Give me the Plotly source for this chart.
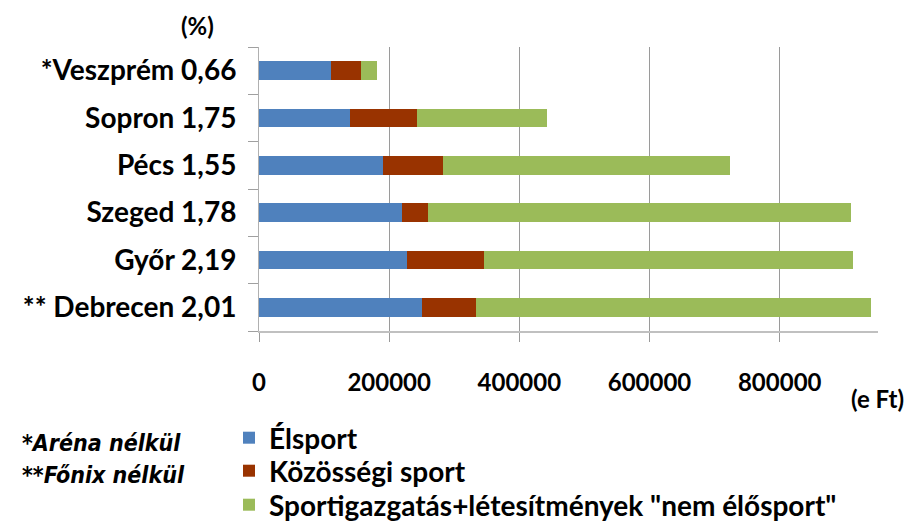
import plotly.graph_objects as go

categories = ["** Debrecen 2,01", "Győr 2,19", "Szeged 1,78", "Pécs 1,55", "Sopron 1,75", "*Veszprém 0,66"]
elsport = [251000, 228000, 220000, 191000, 140000, 111000]
kozossegi = [83000, 118000, 40000, 92000, 102000, 46000]
sportigazgatas = [607000, 567000, 650000, 441000, 201000, 25000]
series_names = ["Élsport", "Közösségi sport", "Sportigazgatás+létesítmények \"nem élősport\""]
tick_vals = [0, 200000, 400000, 600000, 800000]
tick_text = ["0", "200000", "400000", "600000", "800000"]

colors = ["#4F81BD", "#993300", "#9BBB59"]
FONT = "Lato"

# plot area in pixels: x 259..878, y 47..331
L, R, T, B = 259, 878, 47, 331
def px(x):
    return (x - L) / (R - L)
def py(y):
    return (B - y) / (B - T)

legend_ids = ["legend", "legend2", "legend3"]
legend_y = [438, 471, 505]

fig = go.Figure()
for name, vals, c, lid in zip(series_names, [elsport, kozossegi, sportigazgatas], colors, legend_ids):
    fig.add_trace(go.Bar(y=categories, x=vals, name=name, orientation="h", legend=lid,
                         marker=dict(color=c, line=dict(width=0))))

legend_common = dict(xanchor="left", yanchor="middle",
                     font=dict(size=28, family=FONT, weight="bold"),
                     itemwidth=30, bgcolor="rgba(0,0,0,0)")

fig.update_layout(
    barmode="stack",
    bargap=0.6,
    width=911, height=524,
    margin=dict(l=L, r=911 - R, t=T, b=524 - B, autoexpand=False),
    paper_bgcolor="white", plot_bgcolor="white",
    font=dict(family=FONT, color="black"),
    showlegend=True,
    xaxis=dict(range=[0, 951000], tickvals=tick_vals, ticktext=tick_text,
               showgrid=True, gridcolor="#9a9a9a", gridwidth=1,
               showline=True, linecolor="#c0c0c0", linewidth=2,
               ticks="outside", ticklen=9, tickcolor="#9a9a9a",
               tickfont=dict(size=24, family=FONT, weight="bold"),
               ticklabelstandoff=20, zeroline=False, fixedrange=True),
    yaxis=dict(showgrid=False, showline=True, linecolor="#b0b0b0", linewidth=1,
               ticks="outside", ticklen=10, tickcolor="#a0a0a0", tickson="boundaries",
               tickfont=dict(size=28, family=FONT, weight="bold"),
               ticklabelstandoff=16, fixedrange=True),
)
for lid, ly in zip(legend_ids, legend_y):
    fig.update_layout({lid: dict(x=px(229), y=py(ly), **legend_common)})

fig.add_annotation(text="(%)", xref="paper", yref="paper", x=px(197), y=py(26),
                   xanchor="center", yanchor="middle", showarrow=False,
                   font=dict(size=24, family=FONT, weight="bold"))
fig.add_annotation(text="(e Ft)", xref="paper", yref="paper", x=px(906), y=py(398),
                   xanchor="right", yanchor="middle", showarrow=False,
                   font=dict(size=24, family=FONT, weight="bold"))
note_font = dict(size=23, family="DejaVu Sans Condensed", weight="bold")
fig.add_annotation(text="<i>*Aréna nélkül</i>", xref="paper", yref="paper", x=px(20), y=py(443),
                   xanchor="left", yanchor="middle", showarrow=False, font=note_font)
fig.add_annotation(text="<i>**Főnix nélkül</i>", xref="paper", yref="paper", x=px(20), y=py(475),
                   xanchor="left", yanchor="middle", showarrow=False, font=note_font)

fig.write_html("out.html", config={"displayModeBar": False},
               post_script="document.body.style.margin='0';")
